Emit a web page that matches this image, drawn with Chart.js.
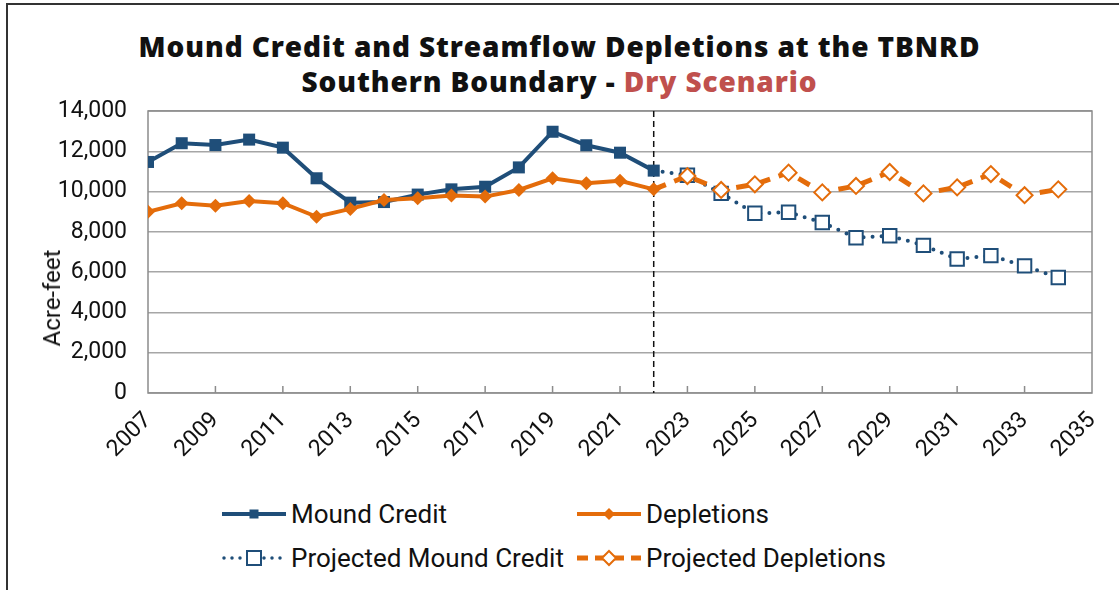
<!DOCTYPE html>
<html>
<head>
<meta charset="utf-8">
<script src="https://cdn.jsdelivr.net/npm/chart.js@4.4.1/dist/chart.umd.min.js"></script>
<style>
  body { margin: 0; background: #fff; }
  #page { position: relative; width: 1119px; height: 590px; overflow: hidden; background: #fff; }
  #frame { position: absolute; left: 6px; top: 3px; width: 1200px; height: 700px;
           border-left: 2px solid #333; border-top: 2px solid #333; }
  #title { position: absolute; left: 0; top: 29px; width: 1119px; text-align: center;
           font-family: "Open Sans", sans-serif; font-weight: 800; font-size: 28px;
           letter-spacing: 0.9px; line-height: 35px; color: #111; }
  #title .dry { color: #c0504d; }
  #chartBox { position: absolute; left: 0; top: 0; width: 1119px; height: 470px; }
  #ylabel { position: absolute; left: 52px; top: 298px; transform: translate(-50%, -50%) rotate(-90deg);
            font-family: Roboto, sans-serif; font-size: 24px; color: #111; white-space: nowrap; }
  .leg { position: absolute; display: flex; align-items: center; height: 30px;
         font-family: Roboto, sans-serif; font-size: 26px; color: #111; white-space: nowrap; }
  .leg svg { margin-right: 5px; }
</style>
</head>
<body>
<div id="page">
  <div id="frame"></div>
  <div id="title">Mound Credit and Streamflow Depletions at the TBNRD<br>Southern Boundary - <span class="dry">Dry Scenario</span></div>
  <div id="chartBox"><canvas id="lineChart" width="1119" height="470"></canvas></div>
  <div id="ylabel">Acre-feet</div>

  <div class="leg" style="left:222px; top:499px;">
    <svg width="64" height="20"><line x1="0" y1="10" x2="64" y2="10" stroke="#1f4e79" stroke-width="4"/><rect x="27.5" y="5.5" width="9" height="9" fill="#1f4e79"/></svg>Mound Credit
  </div>
  <div class="leg" style="left:577px; top:499px;">
    <svg width="64" height="20"><line x1="0" y1="10" x2="64" y2="10" stroke="#e46c0a" stroke-width="4"/><polygon points="32,4 38,10 32,16 26,10" fill="#e46c0a"/></svg>Depletions
  </div>
  <div class="leg" style="left:222px; top:543px;">
    <svg width="64" height="20"><line x1="2" y1="10" x2="62" y2="10" stroke="#1f4e79" stroke-width="3.5" stroke-linecap="round" stroke-dasharray="0 8"/><rect x="25" y="3" width="14" height="14" fill="#fff" stroke="#1f4e79" stroke-width="2"/></svg>Projected Mound Credit
  </div>
  <div class="leg" style="left:577px; top:543px;">
    <svg width="64" height="20"><line x1="0" y1="10" x2="64" y2="10" stroke="#e46c0a" stroke-width="5" stroke-dasharray="11 7"/><polygon points="32,3 39,10 32,17 25,10" fill="#fff" stroke="#e46c0a" stroke-width="2"/></svg>Projected Depletions
  </div>
</div>

<script>
// Datos históricos
const years = [2007, 2008, 2009, 2010, 2011, 2012, 2013, 2014, 2015, 2016, 2017, 2018, 2019, 2020, 2021, 2022];
const moundCredit = [11470, 12400, 12310, 12580, 12180, 10660, 9450, 9480, 9850, 10110, 10240, 11200, 12970, 12300, 11930, 11040];
const depletions = [9000, 9420, 9300, 9530, 9420, 8750, 9140, 9580, 9670, 9800, 9750, 10080, 10660, 10410, 10540, 10110];

// Proyecciones (empiezan en 2022)
const projYears = [2022, 2023, 2024, 2025, 2026, 2027, 2028, 2029, 2030, 2031, 2032, 2033, 2034];
const projMoundCredit = [11040, 10810, 9910, 8920, 8970, 8460, 7710, 7810, 7330, 6650, 6820, 6310, 5730];
const projDepletions = [10110, 10770, 10080, 10360, 10940, 9960, 10280, 10970, 9910, 10210, 10870, 9820, 10110];

// Ejes
const xMin = 2007, xMax = 2035, xStep = 2;
const yMin = 0, yMax = 14000, yStep = 2000;
const splitYear = 2022;

const blue = '#1f4e79';
const orange = '#e46c0a';
const tickFont = { family: 'Roboto', size: 23 };

const toPoints = (xs, ys) => xs.map((x, i) => ({ x: x, y: ys[i] }));

// Marco del área, marcas interiores y línea vertical punteada
const framePlugin = {
    id: 'framePlugin',
    beforeDatasetsDraw(chart) {
        const { ctx, chartArea: a, scales } = chart;
        ctx.save();
        ctx.strokeStyle = '#8c8c8c';
        ctx.lineWidth = 1.5;
        ctx.strokeRect(a.left, a.top, a.right - a.left, a.bottom - a.top);
        ctx.beginPath();
        for (let v = xMin + xStep; v < xMax; v += xStep) {
            const px = scales.x.getPixelForValue(v);
            ctx.moveTo(px, a.bottom);
            ctx.lineTo(px, a.bottom - 7);
        }
        ctx.stroke();
        const sx = scales.x.getPixelForValue(splitYear);
        ctx.strokeStyle = '#111';
        ctx.lineWidth = 1.5;
        ctx.setLineDash([6, 4]);
        ctx.beginPath();
        ctx.moveTo(sx, a.top);
        ctx.lineTo(sx, a.bottom);
        ctx.stroke();
        ctx.restore();
    }
};

const lineCtx = document.getElementById('lineChart').getContext('2d');
const lineChart = new Chart(lineCtx, {
    type: 'line',
    data: {
        datasets: [
            {
                label: 'Depletions',
                data: toPoints(years, depletions),
                borderColor: orange,
                backgroundColor: orange,
                borderWidth: 4,
                pointStyle: 'rectRot',
                pointRadius: 7,
                pointBorderWidth: 0,
                order: 0
            },
            {
                label: 'Mound Credit',
                data: toPoints(years, moundCredit),
                borderColor: blue,
                backgroundColor: blue,
                borderWidth: 4,
                pointStyle: 'rect',
                pointRadius: 8.5,
                pointBorderWidth: 0,
                order: 1
            },
            {
                label: 'Projected Depletions',
                data: toPoints(projYears, projDepletions),
                borderColor: orange,
                backgroundColor: '#fff',
                borderWidth: 5,
                borderDash: [13, 9],
                pointStyle: 'rectRot',
                pointRadius: ctx => ctx.dataIndex === 0 ? 0 : 8,
                pointBorderWidth: 2,
                order: 2
            },
            {
                label: 'Projected Mound Credit',
                data: toPoints(projYears, projMoundCredit),
                borderColor: blue,
                backgroundColor: '#fff',
                borderWidth: 4,
                borderDash: [0, 9],
                borderCapStyle: 'round',
                pointStyle: 'rect',
                pointRadius: ctx => ctx.dataIndex === 0 ? 0 : 9.5,
                pointBorderWidth: 2,
                order: 3
            }
        ]
    },
    options: {
        responsive: false,
        animation: false,
        layout: { padding: { top: 111, right: 27, left: 0, bottom: 0 } },
        plugins: {
            legend: { display: false },
            title: { display: false },
            tooltip: { enabled: false }
        },
        scales: {
            x: {
                type: 'linear',
                min: xMin,
                max: xMax,
                ticks: {
                    stepSize: xStep,
                    minRotation: 45,
                    maxRotation: 45,
                    padding: 6,
                    font: tickFont,
                    color: '#111',
                    callback: v => String(v)
                },
                grid: { display: false },
                border: { display: false },
                afterFit: s => { s.height = 77; }
            },
            y: {
                min: yMin,
                max: yMax,
                ticks: {
                    stepSize: yStep,
                    padding: 21,
                    font: tickFont,
                    color: '#111'
                },
                grid: { color: '#a6a6a6', lineWidth: 1.5, drawTicks: false },
                border: { display: false },
                afterFit: s => { s.width = 148; }
            }
        }
    },
    plugins: [framePlugin]
});
</script>
</body>
</html>
